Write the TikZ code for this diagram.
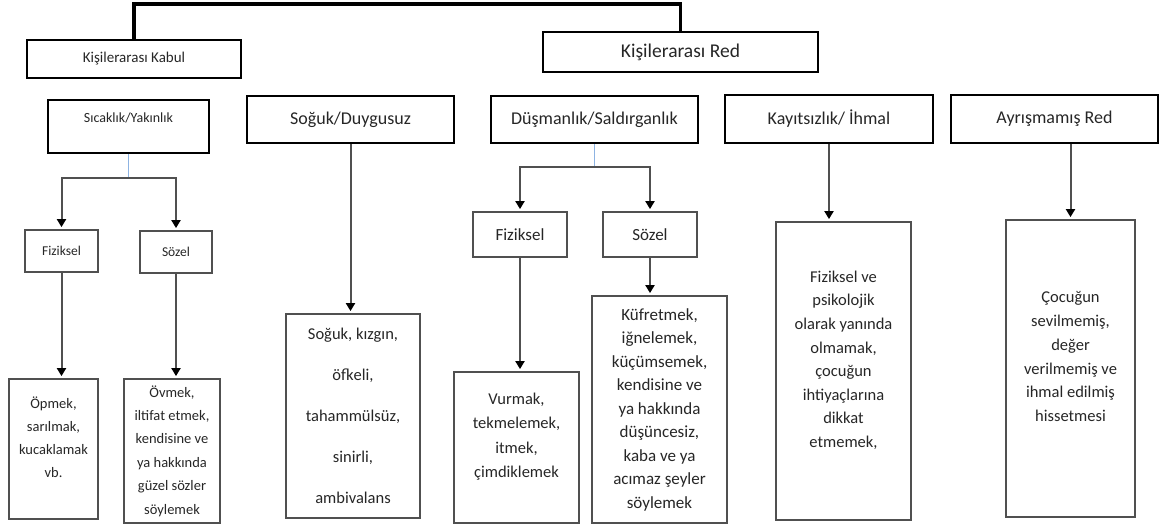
\documentclass[tikz,border=0pt]{standalone}
\usepackage{fontspec}
\setmainfont{Carlito}
\usepackage{xcolor}
\usepackage{tikz}
\usetikzlibrary{arrows.meta}

\definecolor{linkblue}{HTML}{8DB3E2}
\definecolor{boxgray}{HTML}{505050}
\definecolor{txt}{HTML}{262626}
\newcommand{\fs}[2]{\fontsize{#1}{#2}\selectfont}

\begin{document}
\begin{tikzpicture}[x=1pt,y=-1pt,
		every node/.style={inner sep=0pt,align=center,text=txt},
		head/.style={draw=black,line width=2.2pt},
		kind/.style={draw=black,line width=2pt,minimum width=207pt,minimum height=47pt,font=\fs{18}{22}},
		sub/.style={draw=boxgray,line width=1.8pt},
		conn/.style={draw=boxgray,line width=2pt,-{Triangle[width=9pt,length=8pt,color=black]},shorten >=2pt},
		link/.style={draw=linkblue,line width=1.2pt}]
		\useasboundingbox (0,0) rectangle (1163,527);
		%
		\node[head,minimum width=214pt,minimum height=38pt,font=\fs{15}{18}] (accept) at (134,59) {Kişilerarası Kabul};
		\node[head,minimum width=275pt,minimum height=40pt,font=\fs{19.5}{23}] (reject) at (680.5,52) {Kişilerarası Red};
		%
		\node[kind,minimum width=161pt,minimum height=53pt,font=\fs{14}{17}] (warm) at (128.5,126.5) {Sıcaklık/Yakınlık\\\mbox{}};
		\node[kind] (cold) at (350.5,119.5) {Soğuk/Duygusuz};
		\node[kind] (hostile) at (594.5,119.5) {Düşmanlık/Saldırganlık};
		\node[kind,minimum width=208pt] (neglect) at (829,119) {Kayıtsızlık/ İhmal};
		\node[kind] (undiff) at (1054.5,119) {Ayrışmamış Red};
		%
		\node[sub,minimum width=73pt,minimum height=42pt,font=\fs{13.5}{16}] (wphys) at (61.5,251) {Fiziksel};
		\node[sub,minimum width=72pt,minimum height=42pt,font=\fs{13.5}{16}] (wverb) at (176,252) {Sözel};
		\node[sub,minimum width=89pt,minimum height=140pt,font=\fs{14.5}{23}] (kiss) at (53.5,449) {Öpmek,\\sarılmak,\\kucaklamak\\vb.\\\mbox{}};
		\node[sub,minimum width=96pt,minimum height=144pt,font=\fs{14.5}{23.4}] (praise) at (172,451) {Övmek,\\iltifat etmek,\\kendisine ve\\ya hakkında\\güzel sözler\\söylemek};
		%
		\node[sub,minimum width=134pt,minimum height=204pt,font=\fs{16.5}{41}] (coldtext) at (353,416) {Soğuk, kızgın,\\öfkeli,\\tahammülsüz,\\sinirli,\\ambivalans};
		%
		\node[sub,minimum width=94pt,minimum height=45pt,font=\fs{17}{20}] (hphys) at (520,234.5) {Fiziksel};
		\node[sub,minimum width=94pt,minimum height=45pt,font=\fs{17}{20}] (hverb) at (650,234.5) {Sözel};
		\node[sub,minimum width=125pt,minimum height=151pt,font=\fs{16.5}{24.5}] (hit) at (516.5,447.5) {Vurmak,\\tekmelemek,\\itmek,\\çimdiklemek\\\mbox{}};
		\node[sub,minimum width=135pt,minimum height=227pt,font=\fs{17}{23.5}] (insult) at (659.5,409.5) {Küfretmek,\\iğnelemek,\\küçümsemek,\\kendisine ve\\ya hakkında\\düşüncesiz,\\kaba ve ya\\acımaz şeyler\\söylemek};
		%
		\node[sub,minimum width=135pt,minimum height=298pt,font=\fs{16.5}{23.6}] (neglecttext) at (843.5,371) {Fiziksel ve\\psikolojik\\olarak yanında\\olmamak,\\çocuğun\\ihtiyaçlarına\\dikkat\\etmemek,\\\mbox{}};
		\node[sub,minimum width=129pt,minimum height=297pt,font=\fs{16.5}{23.8}] (undifftext) at (1070.5,368.5) {Çocuğun\\sevilmemiş,\\değer\\verilmemiş ve\\ihmal edilmiş\\hissetmesi\\\mbox{}};
		%
		\coordinate (topbar) at (400,4);
		\coordinate (warmsplit) at (128.5,178);
		\coordinate (hostsplit) at (594.5,167);
		%
		\draw[black,line width=3.2pt] (accept.north) |- (topbar) -| (reject.north);
		\draw[link] (warm.south) -- (warmsplit);
		\draw[conn] (warmsplit) -| (wphys.north);
		\draw[conn] (warmsplit) -| (wverb.north);
		\draw[conn] (wphys.south) -- (wphys.south |- kiss.north);
		\draw[conn] (wverb.south) -- (wverb.south |- praise.north);
		\draw[conn] (cold.south) -- (cold.south |- coldtext.north);
		\draw[link] (hostile.south) -- (hostsplit);
		\draw[conn] (hostsplit) -| (hphys.north);
		\draw[conn] (hostsplit) -| (hverb.north);
		\draw[conn] (hphys.south) -- (hphys.south |- hit.north);
		\draw[conn] (hverb.south) -- (hverb.south |- insult.north);
		\draw[conn] (neglect.south) -- (neglect.south |- neglecttext.north);
		\draw[conn] (undiff.south -| undifftext.north) -- (undifftext.north);
\end{tikzpicture}
\end{document}
